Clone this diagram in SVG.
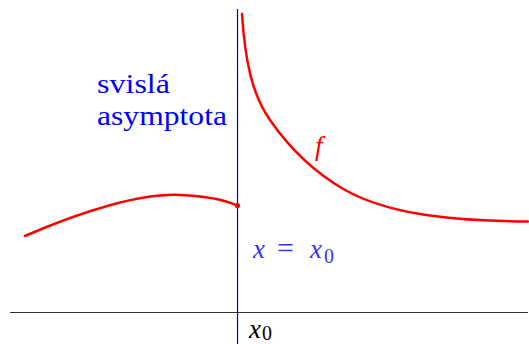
<svg xmlns="http://www.w3.org/2000/svg" width="529" height="344" viewBox="0 0 529 344">
<style>
.curve{fill:none;stroke:#ff0000;stroke-width:2.5;stroke-linecap:round}
.lbl{font-size:27px}
.math{font-style:italic;font-size:27px}
.up{font-style:normal;font-size:30px}
.sub{font-style:normal;font-size:20px}
</style>
<rect width="529" height="344" fill="#ffffff"/>
<g id="axes">
<line x1="10" y1="312.5" x2="528" y2="312.5" stroke="#333333" stroke-width="1"/>
<line x1="237.5" y1="9" x2="237.5" y2="344" stroke="#0000cc" stroke-width="1.2"/>
</g>
<g id="graph">
<path class="curve" d="M25,236 C80,212 140,193 180,195 C205,196 225,200 237,205.5"/>
<circle cx="237.5" cy="205.5" r="2.6" fill="#ff0000"/>
<path class="curve" d="M242,14 C245,60 252,95 270,120 C288,146 310,170 345,190 C385,212 440,221 528,221.5"/>
</g>
<g id="labels" font-family="'Liberation Serif', 'Times New Roman', 'DejaVu Serif', serif">
<text class="lbl" x="97" y="93" fill="#0000ff" textLength="73" lengthAdjust="spacingAndGlyphs">svislá</text>
<text class="lbl" x="97" y="125" fill="#0000ff" textLength="130" lengthAdjust="spacingAndGlyphs">asymptota</text>
<text class="math" x="315" y="155" fill="#ff0000">f</text>
<text class="math" y="258" fill="#3333ff"><tspan x="253">x</tspan><tspan class="up" x="277">=</tspan><tspan x="310">x</tspan><tspan class="sub" x="324" dy="5">0</tspan></text>
<text class="math" y="338" fill="#000000"><tspan x="249">x</tspan><tspan class="sub" x="262" dy="2">0</tspan></text>
</g>
</svg>
